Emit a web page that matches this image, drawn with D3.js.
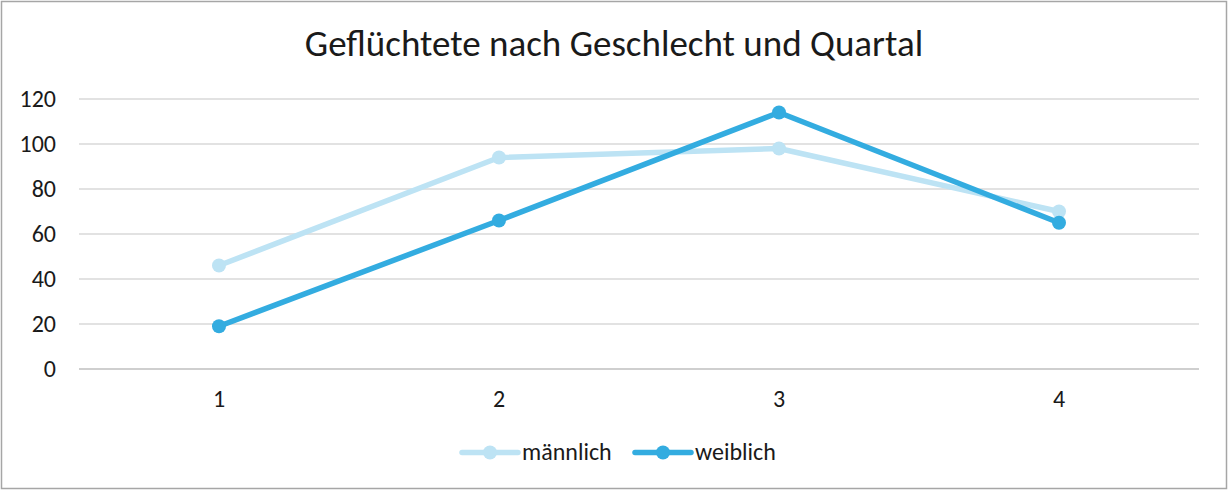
<!DOCTYPE html>
<html>
<head>
<meta charset="utf-8">
<script src="https://cdn.jsdelivr.net/npm/d3@7"></script>
<style>
  html, body { margin: 0; padding: 0; background: #fff; }
  svg { display: block; font-family: Calibri, Carlito, "Open Sans", sans-serif; }
</style>
</head>
<body>
<svg id="vis" width="1228" height="490"></svg>
<script>
const quartale = ['1', '2', '3', '4'];
const maennlich = [46, 94, 98, 70];
const weiblich = [19, 66, 114, 65];
const yTicks = [0, 20, 40, 60, 80, 100, 120];
const serien = [
    { name: 'männlich', values: maennlich, color: '#BDE3F4' },
    { name: 'weiblich', values: weiblich, color: '#33ACE0' }
];

const svg = d3.select('svg#vis');
const W = 1228, H = 490;
const m = { left: 79, right: 1199, top: 99, bottom: 369 };

// frame
svg.append('rect')
    .attr('x', 1.5).attr('y', 1.5)
    .attr('width', W - 3).attr('height', H - 3)
    .attr('fill', '#fff').attr('stroke', '#A6A6A6').attr('stroke-width', 1.5);

svg.append('text')
    .attr('x', 614).attr('y', 56)
    .attr('text-anchor', 'middle')
    .attr('font-size', 37)
    .attr('fill', '#1a1a1a')
    .text('Geflüchtete nach Geschlecht und Quartal');

const x = d3.scaleBand().domain(quartale).range([m.left, m.right]);
const y = d3.scaleLinear().domain([0, 120]).range([m.bottom, m.top]);

// gridlines
svg.append('g')
    .selectAll('line')
    .data(yTicks)
    .join('line')
    .attr('x1', m.left).attr('x2', m.right)
    .attr('y1', d => y(d)).attr('y2', d => y(d))
    .attr('stroke', d => d === 0 ? '#BFBFBF' : '#D9D9D9')
    .attr('stroke-width', 1.5);

// y labels
svg.append('g')
    .selectAll('text')
    .data(yTicks)
    .join('text')
    .attr('x', 56).attr('y', d => y(d) + 8)
    .attr('text-anchor', 'end')
    .attr('font-size', 24)
    .attr('fill', '#1a1a1a')
    .text(d => d);

// x labels
svg.append('g')
    .selectAll('text')
    .data(quartale)
    .join('text')
    .attr('x', d => x(d) + x.bandwidth() / 2)
    .attr('y', 407)
    .attr('text-anchor', 'middle')
    .attr('font-size', 24)
    .attr('fill', '#1a1a1a')
    .text(d => d);

const line = d3.line()
    .x((d, i) => x(quartale[i]) + x.bandwidth() / 2)
    .y(d => y(d));

serien.forEach(s => {
    const g = svg.append('g');
    g.append('path')
        .attr('d', line(s.values))
        .attr('fill', 'none')
        .attr('stroke', s.color)
        .attr('stroke-width', 5.5)
        .attr('stroke-linejoin', 'round');
    g.selectAll('circle')
        .data(s.values)
        .join('circle')
        .attr('cx', (d, i) => x(quartale[i]) + x.bandwidth() / 2)
        .attr('cy', d => y(d))
        .attr('r', 7)
        .attr('fill', s.color);
});

// legend
const legX = [462, 635];
const leg = svg.append('g')
    .selectAll('g')
    .data(serien)
    .join('g')
    .attr('transform', (d, i) => `translate(${legX[i]},452.5)`);
leg.append('line')
    .attr('x1', 0).attr('x2', 56)
    .attr('stroke', d => d.color)
    .attr('stroke-width', 5.5)
    .attr('stroke-linecap', 'round');
leg.append('circle')
    .attr('cx', 28).attr('r', 7)
    .attr('fill', d => d.color);
leg.append('text')
    .attr('x', 60).attr('y', 7.5)
    .attr('font-size', 24)
    .attr('fill', '#1a1a1a')
    .text(d => d.name);
</script>
</body>
</html>
